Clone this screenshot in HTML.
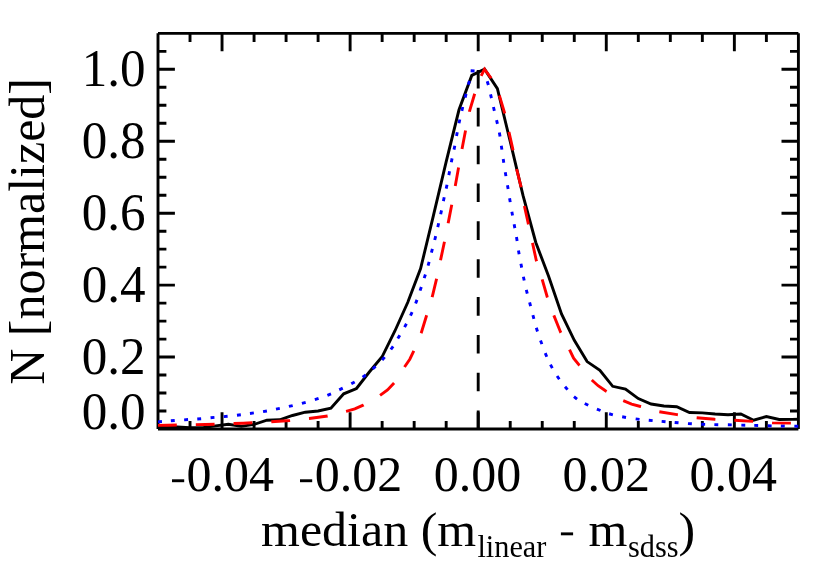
<!DOCTYPE html>
<html><head><meta charset="utf-8"><title>chart</title>
<style>html,body{margin:0;padding:0;background:#fff}svg{display:block;will-change:transform}text{font-family:"Liberation Serif",serif;fill:#000}</style></head>
<body>
<svg width="830" height="587" viewBox="0 0 830 587">
<rect width="830" height="587" fill="#fff"/>
<path d="M158.0 33.35H798.4M158.0 429.0H798.4M158.0 33.35V429.0M798.4 33.35V429.0M190.02 429.0v-8.1M190.02 33.35v8.7M222.04 429.0v-16.8M222.04 33.35v18.0M254.06 429.0v-8.1M254.06 33.35v8.7M286.08 429.0v-8.1M286.08 33.35v8.7M318.10 429.0v-8.1M318.10 33.35v8.7M350.12 429.0v-16.8M350.12 33.35v18.0M382.14 429.0v-8.1M382.14 33.35v8.7M414.16 429.0v-8.1M414.16 33.35v8.7M446.18 429.0v-8.1M446.18 33.35v8.7M478.20 429.0v-16.8M478.20 33.35v18.0M510.22 429.0v-8.1M510.22 33.35v8.7M542.24 429.0v-8.1M542.24 33.35v8.7M574.26 429.0v-8.1M574.26 33.35v8.7M606.28 429.0v-16.8M606.28 33.35v18.0M638.30 429.0v-8.1M638.30 33.35v8.7M670.32 429.0v-8.1M670.32 33.35v8.7M702.34 429.0v-8.1M702.34 33.35v8.7M734.36 429.0v-16.8M734.36 33.35v18.0M766.38 429.0v-8.1M766.38 33.35v8.7M158.0 411.02h8.4M798.4 411.02h-8.4M158.0 393.03h8.4M798.4 393.03h-8.4M158.0 375.05h8.4M798.4 375.05h-8.4M158.0 357.06h16.9M798.4 357.06h-16.9M158.0 339.08h8.4M798.4 339.08h-8.4M158.0 321.10h8.4M798.4 321.10h-8.4M158.0 303.11h8.4M798.4 303.11h-8.4M158.0 285.13h16.9M798.4 285.13h-16.9M158.0 267.14h8.4M798.4 267.14h-8.4M158.0 249.16h8.4M798.4 249.16h-8.4M158.0 231.18h8.4M798.4 231.18h-8.4M158.0 213.19h16.9M798.4 213.19h-16.9M158.0 195.21h8.4M798.4 195.21h-8.4M158.0 177.22h8.4M798.4 177.22h-8.4M158.0 159.24h8.4M798.4 159.24h-8.4M158.0 141.25h16.9M798.4 141.25h-16.9M158.0 123.27h8.4M798.4 123.27h-8.4M158.0 105.29h8.4M798.4 105.29h-8.4M158.0 87.30h8.4M798.4 87.30h-8.4M158.0 69.32h16.9M798.4 69.32h-16.9M158.0 51.33h8.4M798.4 51.33h-8.4" fill="none" stroke="#000" stroke-width="2.9"/>
<polyline points="158.0,426.5 164.4,426.6 177.2,427.0 190.0,427.6 202.8,427.6 215.6,425.9 228.4,424.2 241.3,426.4 254.1,424.4 266.9,420.2 279.7,419.8 292.5,415.5 305.3,412.2 318.1,411.0 330.9,408.1 343.7,393.8 356.5,388.5 369.3,372.0 382.1,356.8 394.9,331.0 407.8,302.3 420.6,268.6 433.4,215.6 446.2,161.6 459.0,109.8 471.8,75.4 484.6,69.2 497.4,88.6 510.2,141.4 523.0,195.4 535.8,242.5 548.6,276.3 561.5,313.9 574.3,340.3 587.1,361.6 599.9,370.3 612.7,386.3 625.5,389.0 638.3,398.6 651.1,404.0 663.9,406.0 676.7,406.8 689.5,412.5 702.3,412.9 715.1,414.0 728.0,414.8 740.8,414.0 753.6,420.2 766.4,416.5 779.2,419.5 792.0,419.4 798.4,419.3" fill="none" stroke="#000" stroke-width="2.9" stroke-linejoin="miter"/>
<line x1="478.2" y1="429.2" x2="478.2" y2="69.2" stroke="#000" stroke-width="2.9" stroke-dasharray="18.6 19.25"/>
<path d="M158.06 421.87L161.94 421.53M170.86 420.75L174.74 420.45M184.15 419.83L188.05 419.57M197.26 419.05L201.14 418.75M210.56 417.78L214.44 417.42M223.76 416.59L227.64 416.21M236.96 415.24L240.84 414.76M249.97 413.47L253.83 412.93M263.08 411.63L266.92 410.97M275.99 409.09L279.81 408.31M288.90 406.43L292.70 405.57M301.92 403.41L305.68 402.39M314.84 399.60L318.56 398.40M327.40 395.44L331.00 393.96M339.25 389.87L342.75 388.13M351.30 383.85L354.70 381.95M362.62 377.24L365.78 374.96M372.66 369.01L375.54 366.39M382.09 360.05L384.71 357.15M390.87 349.49L393.13 346.31M397.80 338.57L399.80 335.23M404.57 327.11L406.43 323.69M410.49 315.67L412.11 312.13M415.62 303.53L416.98 299.87M420.08 290.65L421.32 286.95M424.21 278.16L425.39 274.44M428.08 265.58L429.12 261.82M431.41 252.69L432.39 248.91M434.73 239.99L435.67 236.21M437.77 227.10L438.63 223.30M440.69 214.21L441.51 210.39M443.39 201.11L444.21 197.29M446.20 188.61L447.00 184.79M448.83 175.11L449.57 171.29M451.31 162.21L452.09 158.39M454.02 149.61L454.78 145.79M456.54 136.02L457.26 132.18M458.99 123.31L459.81 119.49M461.84 110.80L462.76 107.00M465.12 97.69L466.08 93.91M468.37 84.68L469.43 80.92M470.65 70.80L474.55 71.00M487.22 81.24L488.38 84.96M490.55 94.30L491.45 98.10M493.46 107.00L494.34 110.80M496.57 120.10L497.43 123.90M499.36 132.58L500.04 136.42M501.32 145.77L501.88 149.63M503.21 158.97L503.79 162.83M505.28 172.28L505.92 176.12M507.48 185.18L508.12 189.02M509.58 198.28L510.22 202.12M511.86 211.78L512.54 215.62M514.15 224.28L514.85 228.12M516.48 237.08L517.12 240.92M518.48 250.48L519.12 254.32M520.93 263.78L521.67 267.62M523.40 276.69L524.20 280.51M526.33 289.81L527.27 293.59M529.61 302.31L530.59 306.09M532.90 315.22L533.90 318.98M536.32 327.74L537.48 331.46M540.54 340.47L541.86 344.13M545.24 353.10L546.76 356.70M550.48 364.68L552.32 368.12M557.10 375.99L559.30 379.21M565.04 386.72L567.56 389.68M573.98 396.68L577.02 399.12M584.76 403.51L588.24 405.29M596.89 409.07L600.51 410.53M609.13 413.76L612.87 414.84M622.18 416.75L626.02 417.45M635.66 418.86L639.54 419.34M648.76 420.21L652.64 420.59M661.66 421.43L665.54 421.77M674.66 422.44L678.54 422.76M687.95 423.58L691.85 423.82M701.25 424.23L705.15 424.37M714.35 424.66L718.25 424.74M727.85 424.76L731.75 424.84M741.35 425.16L745.25 425.24M754.25 425.36L758.15 425.44M767.75 425.76L771.65 425.84M780.85 425.97L784.75 426.03M794.35 426.17L798.25 426.23" fill="none" stroke="#0000ff" stroke-width="2.9"/>
<polyline points="158.0,425.4 167.3,425.2 205.3,424.5 243.2,423.2 271.1,421.7 290.0,420.5 309.2,418.5 327.6,416.0 346.2,411.4 354.8,408.8 363.2,405.2 379.9,395.5 387.5,389.9 394.3,382.7 404.4,367.2 409.8,359.2 413.9,350.6 421.3,332.7 426.5,315.8 432.3,296.5 436.5,279.2 440.6,259.9 444.4,242.0 448.2,222.9 451.7,205.0 455.3,185.7 458.4,168.4 462.1,148.5 465.5,130.8 469.4,111.7 474.8,93.4 480.9,76.5 484.5,69.2 490.6,77.4 499.3,95.4 504.5,112.7 508.9,131.7 512.8,149.1 516.6,169.0 520.9,186.3 524.3,205.6 528.2,223.3 532.4,242.5 536.3,260.5 542.1,279.2 547.1,296.5 553.6,314.8 560.6,332.2 569.2,349.1 573.6,358.2 579.2,365.1 591.7,379.9 598.1,385.7 605.8,390.9 623.1,400.6 631.6,404.1 640.5,406.5 659.2,411.7 677.1,414.6 696.6,417.7 714.7,419.3 734.2,420.2 752.9,421.4 772.2,422.7 790.5,423.1 798.4,423.3" fill="none" stroke="#ff0000" stroke-width="2.9" stroke-linejoin="miter" stroke-dasharray="18.8 19"/>
<text transform="translate(145.5 86.1) scale(1.022 1.035)" font-size="50" text-anchor="end">1.0</text>
<text transform="translate(145.5 158.0) scale(1.022 1.035)" font-size="50" text-anchor="end">0.8</text>
<text transform="translate(145.5 229.9) scale(1.022 1.035)" font-size="50" text-anchor="end">0.6</text>
<text transform="translate(145.5 301.9) scale(1.022 1.035)" font-size="50" text-anchor="end">0.4</text>
<text transform="translate(145.5 373.8) scale(1.022 1.035)" font-size="50" text-anchor="end">0.2</text>
<text transform="translate(145.5 428.8) scale(1.022 1.035)" font-size="50" text-anchor="end">0.0</text>
<rect x="172.0" y="479.3" width="12.2" height="2.9" fill="#000"/>
<text transform="translate(186.6 491.4) scale(1.0 1.025)" font-size="50">0.04</text>
<rect x="300.0" y="479.3" width="12.2" height="2.9" fill="#000"/>
<text transform="translate(314.7 491.4) scale(1.0 1.025)" font-size="50">0.02</text>
<text transform="translate(477.6 491.4) scale(1.0 1.025)" font-size="50" text-anchor="middle">0.00</text>
<text transform="translate(606.3 491.4) scale(1.0 1.025)" font-size="50" text-anchor="middle">0.02</text>
<text transform="translate(733.2 491.4) scale(1.0 1.025)" font-size="50" text-anchor="middle">0.04</text>
<text transform="translate(261.0 545.5) scale(1.0 0.965)" font-size="50">median (m</text>
<text transform="translate(477.4 556.7) scale(0.5 0.5125)" font-size="60.6">linear</text>
<rect x="560.9" y="532.4" width="12.2" height="2.9" fill="#000"/>
<text transform="translate(588.5 545.5) scale(1.0 0.965)" font-size="50">m</text>
<text transform="translate(628.0 556.7) scale(0.5 0.5125)" font-size="60.6">sdss</text>
<text transform="translate(678.6 545.5) scale(1.0 0.965)" font-size="50">)</text>
<text transform="translate(43.9 231.4) rotate(-90)" font-size="50" text-anchor="middle">N [normalized]</text>
</svg></body></html>
